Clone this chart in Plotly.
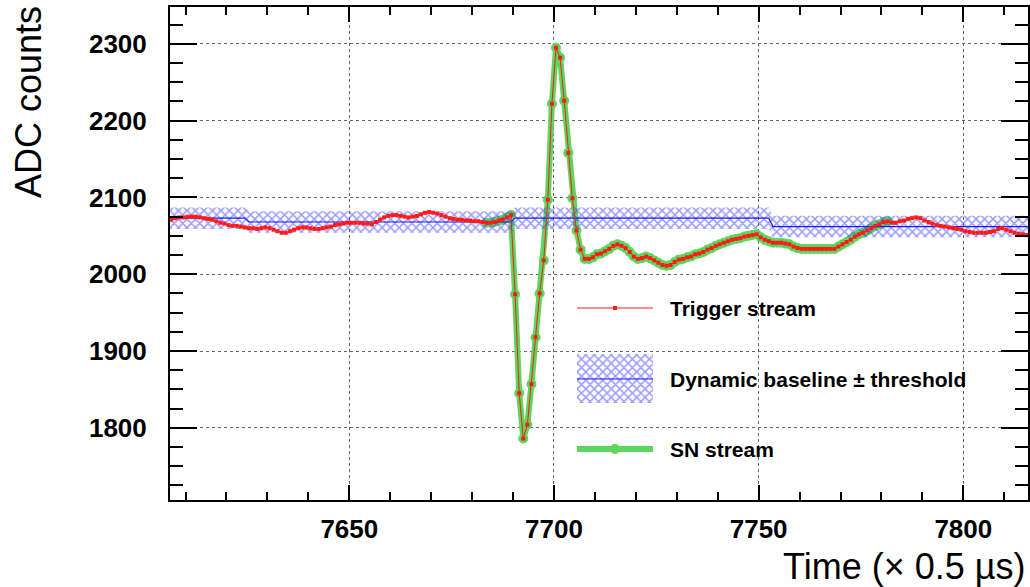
import plotly.graph_objects as go

# ---------------- data ----------------
t0 = 7606.5
trigger_adc = [
    2071, 2073, 2074, 2074, 2075, 2075, 2075, 2074, 2073, 2072,
    2071, 2069, 2067, 2066, 2064, 2063, 2063, 2062, 2061, 2060,
    2060, 2059, 2060, 2061, 2060, 2058, 2056, 2054, 2054, 2056,
    2058, 2060, 2061, 2061, 2060, 2059, 2059, 2060, 2061, 2062,
    2064, 2065, 2066, 2067, 2067, 2067, 2067, 2066, 2066, 2065,
    2068, 2071, 2074, 2076, 2077, 2077, 2076, 2075, 2074, 2075,
    2076, 2078, 2080, 2081, 2080, 2079, 2077, 2075, 2073, 2072,
    2071, 2071, 2070, 2070, 2069, 2069, 2068, 2067, 2067, 2068,
    2070, 2071, 2074, 2077, 1974, 1845, 1786, 1804, 1857, 1918,
    1975, 2018, 2097, 2222, 2295, 2282, 2226, 2158, 2099, 2057,
    2032, 2020, 2020, 2022, 2026, 2027, 2030, 2033, 2037, 2039,
    2037, 2034, 2029, 2023, 2020, 2021, 2023, 2021, 2018, 2015,
    2012, 2011, 2012, 2016, 2019, 2020, 2022, 2023, 2026, 2027,
    2029, 2032, 2034, 2037, 2039, 2041, 2043, 2045, 2046, 2047,
    2049, 2050, 2051, 2052, 2048, 2045, 2043, 2041, 2041, 2041,
    2040, 2039, 2036, 2034, 2033, 2033, 2033, 2033, 2033, 2033,
    2033, 2033, 2033, 2036, 2039, 2042, 2045, 2049, 2052, 2054,
    2057, 2060, 2063, 2065, 2068, 2069, 2067, 2067, 2069, 2070,
    2072, 2073, 2074, 2073, 2070, 2068, 2066, 2064, 2063, 2062,
    2061, 2060, 2059, 2058, 2056, 2055, 2054, 2054, 2054, 2054,
    2055, 2056, 2059, 2060, 2058, 2056, 2054, 2053, 2052, 2051,
]
trigger_time = [t0 + i for i in range(len(trigger_adc))]

sn_start, sn_end = 7683.5, 7781.5
sn_time = [t for t in trigger_time if sn_start <= t <= sn_end]
sn_adc = [v for t, v in zip(trigger_time, trigger_adc) if sn_start <= t <= sn_end]

baseline_time = [7606.2, 7624.5, 7625.5, 7689.5, 7690.5, 7752.5, 7753.5, 7815.8]
baseline_adc = [2073, 2073, 2068, 2068, 2073, 2073, 2062, 2062]
threshold = 14

x_range = [7606.2, 7815.8]
y_range = [1706, 2348]
legend_labels = ["Trigger stream", "Dynamic baseline \u00b1 threshold", "SN stream"]

# ---------------- style ----------------
RED = "#ff1a1a"
GREEN = "#5cd65c"
BLUE = "#1a1aff"
HATCH = dict(shape="x", fgcolor="rgba(60,60,255,1.0)", bgcolor="rgba(255,255,255,0)",
             size=6, solidity=0.45)
FONT = "Liberation Sans, Arial, Helvetica, sans-serif"

fig = go.Figure()

# SN stream (under the band)
fig.add_trace(go.Scatter(x=sn_time, y=sn_adc, mode="lines+markers",
                         line=dict(color=GREEN, width=6),
                         marker=dict(symbol="circle", size=10, color=GREEN),
                         showlegend=False, hoverinfo="skip"))

# baseline band
upper = [b + threshold for b in baseline_adc]
lower = [b - threshold for b in baseline_adc]
fig.add_trace(go.Scatter(x=baseline_time, y=upper, mode="lines",
                         line=dict(width=0, color="rgba(0,0,0,0)"),
                         showlegend=False, hoverinfo="skip"))
fig.add_trace(go.Scatter(x=baseline_time, y=lower, mode="lines",
                         line=dict(width=0, color="rgba(0,0,0,0)"),
                         fill="tonexty", fillcolor="rgba(0,0,0,0)", fillpattern=HATCH,
                         showlegend=False, hoverinfo="skip"))
fig.add_trace(go.Scatter(x=baseline_time, y=baseline_adc, mode="lines",
                         line=dict(color=BLUE, width=1.2),
                         showlegend=False, hoverinfo="skip"))

# trigger stream
fig.add_trace(go.Scatter(x=trigger_time, y=trigger_adc, mode="lines+markers",
                         line=dict(color=RED, width=1),
                         marker=dict(symbol="square", size=4, color=RED),
                         showlegend=False, hoverinfo="skip"))

# ---------------- manual legend (overlay axes, 0..1 of plot area) ----------------
PW, PH, L, B = 858.0, 493.0, 170.0, 500.0
def fx(px):
    return (px - L) / PW
def fy(py):
    return (B - py) / PH

lx0, lx1, lxm = fx(577), fx(653), fx(615)
ya, yb, yc = fy(308), fy(379), fy(449)
bt, bb = fy(354), fy(403)

fig.add_trace(go.Scatter(x=[lx0, lx1], y=[ya, ya], xaxis="x2", yaxis="y2", mode="lines",
                         line=dict(color=RED, width=1), showlegend=False, hoverinfo="skip"))
fig.add_trace(go.Scatter(x=[lxm], y=[ya], xaxis="x2", yaxis="y2", mode="markers",
                         marker=dict(symbol="square", size=4, color=RED),
                         showlegend=False, hoverinfo="skip"))
fig.add_trace(go.Scatter(x=[lx0, lx1, lx1, lx0, lx0], y=[bt, bt, bb, bb, bt],
                         xaxis="x2", yaxis="y2", mode="lines", fill="toself",
                         fillcolor="rgba(0,0,0,0)", fillpattern=HATCH,
                         line=dict(width=0, color="rgba(0,0,0,0)"),
                         showlegend=False, hoverinfo="skip"))
fig.add_trace(go.Scatter(x=[lx0, lx1], y=[yb, yb], xaxis="x2", yaxis="y2", mode="lines",
                         line=dict(color=BLUE, width=1.2), showlegend=False, hoverinfo="skip"))
fig.add_trace(go.Scatter(x=[lx0, lx1], y=[yc, yc], xaxis="x2", yaxis="y2", mode="lines",
                         line=dict(color=GREEN, width=6), showlegend=False, hoverinfo="skip"))
fig.add_trace(go.Scatter(x=[lxm], y=[yc], xaxis="x2", yaxis="y2", mode="markers",
                         marker=dict(symbol="circle", size=10, color=GREEN),
                         showlegend=False, hoverinfo="skip"))

annotations = []
for lab, yy in zip(legend_labels, [ya, yb, yc]):
    annotations.append(dict(x=fx(668), y=yy, xref="paper", yref="paper", text=lab,
                            showarrow=False, xanchor="left", yanchor="middle",
                            font=dict(family=FONT, size=21, color="black", weight="bold")))

# axis titles
annotations.append(dict(x=fx(28), y=fy(102), xref="paper", yref="paper", text="ADC counts",
                        textangle=-90, showarrow=False, xanchor="center", yanchor="middle",
                        font=dict(family=FONT, size=36, color="black")))
annotations.append(dict(x=fx(1027), y=fy(566), xref="paper", yref="paper",
                        text="Time (\u00d7 0.5 \u00b5s)", showarrow=False,
                        xanchor="right", yanchor="middle",
                        font=dict(family=FONT, size=36, color="black")))

axis_common = dict(showline=True, linecolor="black", linewidth=2, mirror="allticks",
                   ticks="inside", tickcolor="black", tickwidth=2,
                   showgrid=True, gridcolor="#666666", griddash="dot", gridwidth=1,
                   zeroline=False, automargin=False,
                   tickfont=dict(family=FONT, size=26, color="black", weight="bold"))

fig.update_layout(
    width=1030, height=587,
    margin=dict(l=170, r=2, t=7, b=87, autoexpand=False),
    paper_bgcolor="white", plot_bgcolor="white",
    showlegend=False,
    xaxis=dict(range=x_range, dtick=50, tick0=7650, ticklen=15,
               minor=dict(dtick=10, tick0=7600, ticklen=8, ticks="inside",
                          tickcolor="black", tickwidth=2, showgrid=False),
               ticklabelstandoff=5, **axis_common),
    yaxis=dict(range=y_range, dtick=100, tick0=1800, ticklen=27,
               minor=dict(dtick=25, tick0=1700, ticklen=13, ticks="inside",
                          tickcolor="black", tickwidth=2, showgrid=False),
               ticklabelstandoff=16, **axis_common),
    xaxis2=dict(range=[0, 1], overlaying="x", visible=False, fixedrange=True),
    yaxis2=dict(range=[0, 1], overlaying="y", visible=False, fixedrange=True),
    annotations=annotations,
)

fig.write_html("out.html", config={"displayModeBar": False},
               post_script="document.body.style.margin='0px';document.body.style.overflow='hidden';")
